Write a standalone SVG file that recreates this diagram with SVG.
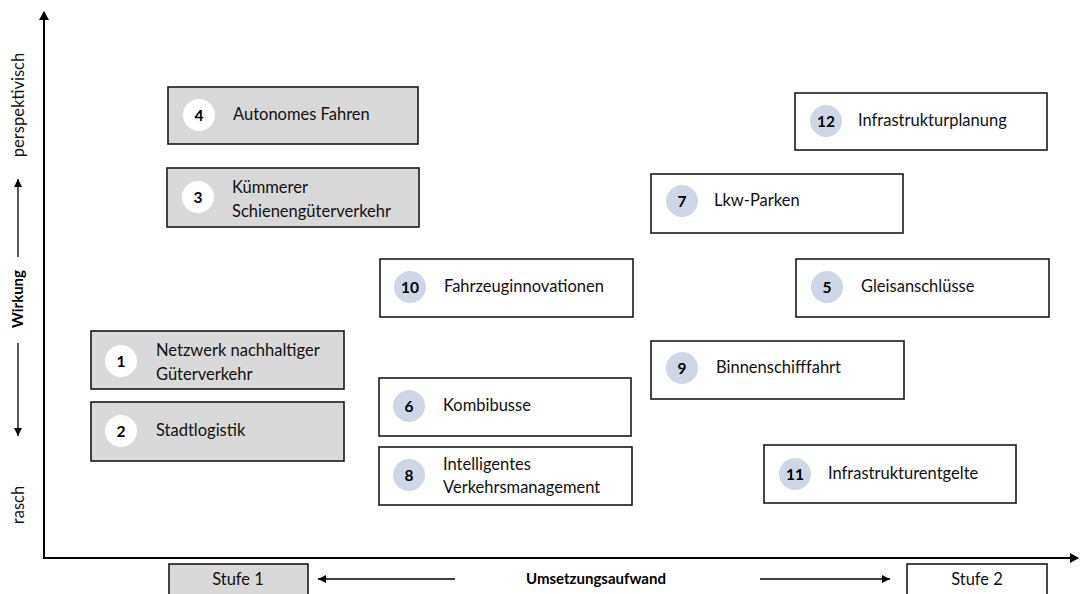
<svg xmlns="http://www.w3.org/2000/svg" width="1080" height="594" viewBox="0 0 1080 594">
<defs>
<marker id="ah" markerWidth="10" markerHeight="10" refX="8" refY="5" orient="auto" markerUnits="userSpaceOnUse">
<path d="M0,0 L9,5 L0,10 Z" fill="#000"/>
</marker>
<marker id="ahs" markerWidth="9" markerHeight="8" refX="8" refY="4" orient="auto" markerUnits="userSpaceOnUse">
<path d="M0,0 L8,4 L0,8 Z" fill="#000"/>
</marker>
<style>
.box{stroke:#1a1a1a;stroke-width:1.6}
.g{fill:#d9d9d9}
.w{fill:#fff}
.cw{fill:#fff}
.cb{fill:#cdd7e6}
.num{font-family:Lato,"Liberation Sans",sans-serif;font-size:15.5px;font-weight:bold;fill:#000;text-anchor:middle}
.lbl{font-family:Lato,"Liberation Sans",sans-serif;font-size:16.5px;fill:#111}
.ax{font-family:Lato,"Liberation Sans",sans-serif;font-size:16.5px;fill:#111;text-anchor:middle}
.axb{font-family:Lato,"Liberation Sans",sans-serif;font-size:15px;font-weight:bold;fill:#000;text-anchor:middle}
.axis{stroke:#000;stroke-width:2;fill:none}
.thin{stroke:#000;stroke-width:1.3;fill:none}
</style>
</defs>
<g id="connectors">
<line class="axis" x1="44" y1="559" x2="44" y2="12" marker-end="url(#ah)"/>
<line class="axis" x1="43" y1="558" x2="1078" y2="558" marker-end="url(#ah)"/>
<line class="thin" x1="18" y1="257" x2="18" y2="179" marker-end="url(#ahs)"/>
<line class="thin" x1="18" y1="343" x2="18" y2="436" marker-end="url(#ahs)"/>
<line class="thin" x1="455" y1="579" x2="318" y2="579" marker-end="url(#ahs)"/>
<line class="thin" x1="760" y1="579" x2="890" y2="579" marker-end="url(#ahs)"/>
</g>
<g id="axis-labels">
<text class="ax" transform="translate(24,105) rotate(-90)">perspektivisch</text>
<text class="axb" transform="translate(23,299) rotate(-90)">Wirkung</text>
<text class="ax" transform="translate(24,505) rotate(-90)">rasch</text>
<text class="axb" x="596" y="584">Umsetzungsaufwand</text>
</g>
<g id="stufe1"><rect class="box g" x="169" y="564" width="139" height="34"/><text class="ax" x="238" y="585">Stufe 1</text></g>
<g id="stufe2"><rect class="box w" x="907" y="564" width="140" height="34"/><text class="ax" x="977" y="585">Stufe 2</text></g>
<g id="n4"><rect class="box g" x="168" y="87" width="250" height="57"/><circle class="cw" cx="199" cy="115" r="16"/><text class="num" x="199" y="120.5">4</text><text class="lbl" x="233" y="120">Autonomes Fahren</text></g>
<g id="n3"><rect class="box g" x="167" y="168" width="252" height="59"/><circle class="cw" cx="198" cy="197" r="16"/><text class="num" x="198" y="202.5">3</text><text class="lbl" x="232" y="193">Kümmerer</text><text class="lbl" x="232" y="217">Schienengüterverkehr</text></g>
<g id="n1"><rect class="box g" x="91" y="331" width="253" height="58"/><circle class="cw" cx="121" cy="361" r="16"/><text class="num" x="121" y="366.5">1</text><text class="lbl" x="156" y="356">Netzwerk nachhaltiger</text><text class="lbl" x="156" y="380">Güterverkehr</text></g>
<g id="n2"><rect class="box g" x="91" y="402" width="253" height="59"/><circle class="cw" cx="121" cy="431" r="16"/><text class="num" x="121" y="436.5">2</text><text class="lbl" x="156" y="436">Stadtlogistik</text></g>
<g id="n12"><rect class="box w" x="795" y="93" width="252" height="57"/><circle class="cb" cx="826" cy="121" r="16"/><text class="num" x="826" y="126.5">12</text><text class="lbl" x="858" y="126">Infrastrukturplanung</text></g>
<g id="n7"><rect class="box w" x="651" y="174" width="252" height="59"/><circle class="cb" cx="682" cy="201" r="16"/><text class="num" x="682" y="206.5">7</text><text class="lbl" x="714" y="206">Lkw-Parken</text></g>
<g id="n10"><rect class="box w" x="380" y="259" width="253" height="58"/><circle class="cb" cx="410" cy="287" r="16"/><text class="num" x="410" y="292.5">10</text><text class="lbl" x="444" y="292">Fahrzeuginnovationen</text></g>
<g id="n5"><rect class="box w" x="796" y="259" width="253" height="58"/><circle class="cb" cx="827" cy="287" r="16"/><text class="num" x="827" y="292.5">5</text><text class="lbl" x="861" y="292">Gleisanschlüsse</text></g>
<g id="n9"><rect class="box w" x="651" y="341" width="253" height="58"/><circle class="cb" cx="682" cy="368" r="16"/><text class="num" x="682" y="373.5">9</text><text class="lbl" x="716" y="373">Binnenschifffahrt</text></g>
<g id="n6"><rect class="box w" x="379" y="378" width="252" height="58"/><circle class="cb" cx="409" cy="406" r="16"/><text class="num" x="409" y="411.5">6</text><text class="lbl" x="443" y="411">Kombibusse</text></g>
<g id="n8"><rect class="box w" x="379" y="447" width="253" height="58"/><circle class="cb" cx="409" cy="475" r="16"/><text class="num" x="409" y="480.5">8</text><text class="lbl" x="443" y="470">Intelligentes</text><text class="lbl" x="443" y="493">Verkehrsmanagement</text></g>
<g id="n11"><rect class="box w" x="764" y="445" width="252" height="58"/><circle class="cb" cx="795" cy="474" r="16"/><text class="num" x="795" y="479.5">11</text><text class="lbl" x="828" y="479">Infrastrukturentgelte</text></g>
</svg>
